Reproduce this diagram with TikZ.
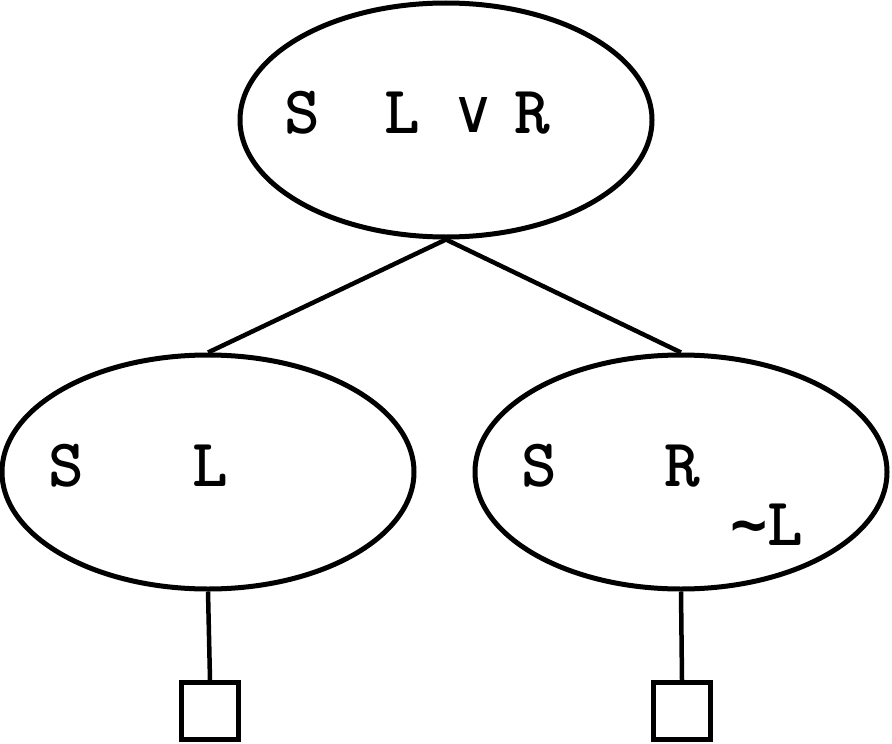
\documentclass[tikz,border=0pt]{standalone}
\usepackage{fontspec}
\usepackage{graphicx}
\newfontfamily\symfont{DejaVu Sans}
\newfontfamily\tildefont{DejaVu Sans Mono}
\usetikzlibrary{shapes.geometric}

\tikzstyle{state} = [ellipse, draw=black, line width=5pt, minimum width=412pt, minimum height=234pt, inner sep=0pt]
\tikzstyle{leaf} = [rectangle, draw=black, line width=5pt, minimum width=57pt, minimum height=57pt, inner sep=0pt]
\tikzstyle{branch} = [line width=4.5pt]
\tikzstyle{lbl} = [anchor=base west, inner sep=0pt, font=\fontsize{68}{68}\selectfont\ttfamily\bfseries]

\begin{document}
\begin{tikzpicture}[x=1pt,y=-1pt]
\useasboundingbox (0,0) rectangle (892,744);

\node (root) [state] at (446,120) {};
\node (left) [state] at (208,472) {};
\node (right) [state] at (681,472) {};
\node (leafL) [leaf] at (210,711) {};
\node (leafR) [leaf] at (682,711) {};

% labels
\node (rootS) [lbl] at (284,133) {S};
\node (rootL) [lbl] at (384,133) {L};
\node (rootV) [anchor=base west, inner sep=0pt] at (451,132) {\resizebox{44pt}{35pt}{\symfont ∨}};
\node (rootR) [lbl] at (514,133) {R};
\node (leftS) [lbl] at (48,486) {S};
\node (leftL) [lbl] at (192,486) {L};
\node (rightS) [lbl] at (521,486) {S};
\node (rightR) [lbl] at (664,486) {R};
\node (rightNL) [lbl] at (730,545) {{\fontsize{62}{62}\selectfont\tildefont\bfseries\symbol{"7E}}L};

\draw [branch] (root.south) -- (left.north);
\draw [branch] (root.south) -- (right.north);
\draw [branch] (left.south) -- (leafL.north);
\draw [branch] (right.south) -- (leafR.north);
\end{tikzpicture}
\end{document}
